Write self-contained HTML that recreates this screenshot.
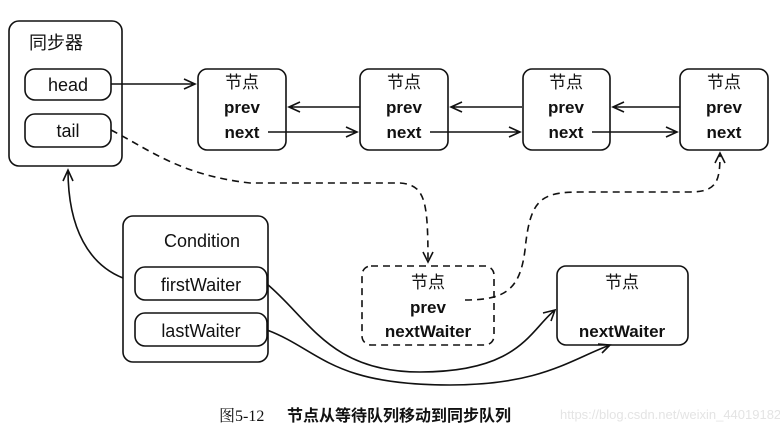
<!DOCTYPE html>
<html><head><meta charset="utf-8"><style>
body{margin:0;background:#fff}
svg{display:block}
text{font-family:"Liberation Sans","Noto Sans CJK SC",sans-serif;fill:#111}
.b{font-weight:bold;font-size:17px}
.n{font-size:17px}
</style></head><body>
<svg width="780" height="431" viewBox="0 0 780 431">
<g fill="none" stroke="#111" stroke-width="1.6">
<rect x="9" y="21" width="113" height="145" rx="10"/>
<rect x="25" y="69" width="86" height="31" rx="10"/>
<rect x="25" y="114" width="86" height="33" rx="10"/>
<rect x="198" y="69" width="88" height="81" rx="9"/>
<rect x="360" y="69" width="88" height="81" rx="9"/>
<rect x="523" y="69" width="87" height="81" rx="9"/>
<rect x="680" y="69" width="88" height="81" rx="9"/>
<rect x="123" y="216" width="145" height="146" rx="10"/>
<rect x="135" y="267" width="132" height="33" rx="10"/>
<rect x="135" y="313" width="132" height="33" rx="10"/>
<rect x="362" y="266" width="132" height="79" rx="9" stroke-dasharray="7,5"/>
<rect x="557" y="266" width="131" height="79" rx="9"/>
<path d="M111 84 H195 M184 79 L195 84 L184 89"/>
<path d="M268 132 H357 M346 127 L357 132 L346 137"/>
<path d="M430 132 H520 M509 127 L520 132 L509 137"/>
<path d="M592 132 H677 M666 127 L677 132 L666 137"/>
<path d="M360 107 H289 M300 102 L289 107 L300 112"/>
<path d="M522 107 H451 M462 102 L451 107 L462 112"/>
<path d="M680 107 H613 M624 102 L613 107 L624 112"/>
<path d="M123 278 C90 265 68 230 68 170 M63 181 L68 170 L73 181"/>
<path d="M267 284 C310 320 330 372 420 372 C520 372 530 330 555 310 M543 313 L555 310 L551 321"/>
<path d="M267 330 C320 350 330 385 450 385 C540 385 570 360 610 345 M598 344 L610 345 L602 353"/>
<path d="M111 130 C150 150 180 175 250 183 L400 183 C425 185 428 200 428 262" stroke-dasharray="7,5"/>
<path d="M423 252 L428 262 L433 252"/>
<path d="M465 300 C505 300 520 290 525 250 C530 200 540 192 580 192 L690 192 C718 192 720 180 720 153" stroke-dasharray="7,5"/>
<path d="M715 163 L720 153 L725 163"/>
</g>
<text x="29" y="49" style="font-size:18px">同步器</text>
<text x="68" y="91" class="n" text-anchor="middle" style="font-size:18px">head</text>
<text x="68" y="137" class="n" text-anchor="middle" style="font-size:18px">tail</text>
<g text-anchor="middle">
<text x="242" y="88" class="n">节点</text><text x="242" y="113" class="b">prev</text><text x="242" y="138" class="b">next</text>
<text x="404" y="88" class="n">节点</text><text x="404" y="113" class="b">prev</text><text x="404" y="138" class="b">next</text>
<text x="566" y="88" class="n">节点</text><text x="566" y="113" class="b">prev</text><text x="566" y="138" class="b">next</text>
<text x="724" y="88" class="n">节点</text><text x="724" y="113" class="b">prev</text><text x="724" y="138" class="b">next</text>
<text x="202" y="247" style="font-size:18px">Condition</text>
<text x="201" y="291" style="font-size:18px">firstWaiter</text>
<text x="201" y="337" style="font-size:18px">lastWaiter</text>
<text x="428" y="288" class="n">节点</text><text x="428" y="313" class="b">prev</text><text x="428" y="337" class="b">nextWaiter</text>
<text x="622" y="288" class="n">节点</text><text x="622" y="337" class="b">nextWaiter</text>
</g>
<text x="219" y="421" style="font-family:'Liberation Serif','Noto Serif CJK SC',serif;font-size:16px">图5-12</text>
<text x="287" y="421" style="font-size:16px;font-weight:bold">节点从等待队列移动到同步队列</text>
<text x="560" y="419" style="font-size:13px;fill:#e4e4e4">https://blog.csdn.net/weixin_44019182</text>
</svg>
</body></html>
